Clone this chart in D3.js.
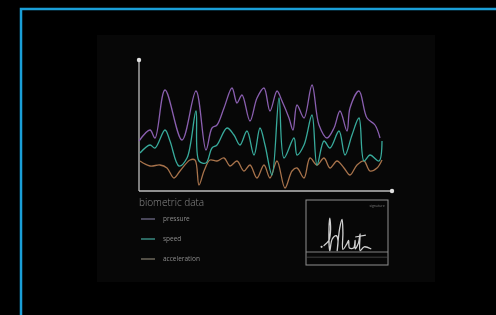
<!DOCTYPE html>
<html>
<head>
<meta charset="utf-8">
<script src="https://cdn.jsdelivr.net/npm/d3@7"></script>
<style>
  html, body { margin: 0; padding: 0; background: #000; }
  svg { display: block; }
  text { font-family: "Open Sans", "DejaVu Sans", sans-serif; }
</style>
</head>
<body>
<svg id="chart" width="496" height="315"></svg>
<script>
// ----- data (t along the time axis 0..253, value 0..131)
const pressureT = [0, 11, 16, 26, 43, 57, 67, 73, 78, 85, 93, 98, 103, 111, 118, 125, 131, 138, 143, 150, 154, 158, 165, 173, 180, 188, 195, 201, 208, 211, 220, 228, 236, 241];
const pressureV = [50, 61, 53, 101, 51, 100, 41, 63, 66, 83, 103, 88, 96, 70, 93, 103, 80, 100, 90, 73, 61, 86, 73, 106, 66, 53, 63, 80, 60, 83, 100, 73, 66, 53];

const speedT = [1, 11, 16, 26, 31, 40, 48, 57, 60, 67, 73, 78, 88, 95, 101, 108, 115, 121, 126, 133, 140, 145, 155, 158, 165, 173, 178, 185, 191, 200, 206, 213, 220, 225, 231, 240, 243];
const speedV = [38, 46, 43, 61, 50, 25, 33, 80, 30, 28, 43, 46, 63, 56, 46, 60, 36, 63, 46, 16, 93, 33, 53, 36, 46, 76, 26, 50, 43, 60, 36, 56, 73, 30, 36, 30, 50];

const accelT = [1, 11, 21, 28, 35, 41, 51, 56, 60, 65, 71, 78, 85, 91, 98, 105, 111, 118, 125, 131, 138, 146, 153, 158, 165, 171, 178, 185, 191, 198, 205, 211, 218, 225, 231, 238, 243];
const accelV = [30, 25, 26, 23, 13, 20, 31, 31, 6, 20, 31, 30, 33, 25, 30, 20, 26, 13, 26, 13, 30, 3, 20, 23, 13, 33, 26, 33, 23, 30, 23, 16, 26, 30, 20, 23, 31];

const seriesNames = ['pressure', 'speed', 'acceleration'];
const seriesColors = ['#8a5fb0', '#38ab9c', '#a8734b'];
const legendColors = ['#6d6a86', '#3f9c92', '#7c7466'];

// signature strokes in box units (0..100 wide, 0..100 tall)
const sigX = [22, 28, 30, 29, 28, 29, 32, 37, 39, 38, 41, 44, 45, 45, 50, 52, 53, 58, 60, 60, 64, 66, 66, 71, 79];
const sigY = [70, 62, 45, 28, 45, 78, 60, 55, 62, 78, 44, 30, 50, 76, 67, 62, 74, 74, 62, 75, 66, 52, 78, 72, 75];
const crossX = [60, 73];
const crossY = [57, 54];

const svg = d3.select('#chart');

const defs = svg.append('defs');
defs.append('filter').attr('id', 'soft')
    .append('feGaussianBlur').attr('stdDeviation', 0.55);

// ----- frame + inner panel
svg.append('rect')
    .attr('x', 21).attr('y', 9).attr('width', 500).attr('height', 330)
    .attr('fill', 'none').attr('stroke', '#1a9fd8').attr('stroke-width', 2.5);

svg.append('rect')
    .attr('x', 97).attr('y', 35).attr('width', 338).attr('height', 247)
    .attr('fill', '#070707');

const g = svg.append('g').attr('filter', 'url(#soft)');

// ----- scales
const x = d3.scaleLinear().domain([0, 253]).range([139, 392]);
const y = d3.scaleLinear().domain([0, 131]).range([191, 60]);

// ----- axes
g.append('line')
    .attr('x1', x(0)).attr('x2', x(0)).attr('y1', y(0)).attr('y2', y(131))
    .attr('stroke', '#bdbdbd').attr('stroke-width', 1.3);
g.append('line')
    .attr('x1', x(0)).attr('x2', x(253)).attr('y1', y(0)).attr('y2', y(0))
    .attr('stroke', '#bdbdbd').attr('stroke-width', 1.5);
g.append('circle').attr('cx', x(0)).attr('cy', y(131)).attr('r', 2.2).attr('fill', '#e0e0e0');
g.append('circle').attr('cx', x(253)).attr('cy', y(0)).attr('r', 2.2).attr('fill', '#e0e0e0');

// ----- series
const line = d3.line()
    .x(d => x(d[0]))
    .y(d => y(d[1]))
    .curve(d3.curveCatmullRom.alpha(0.5));

const series = [
    d3.zip(pressureT, pressureV),
    d3.zip(speedT, speedV),
    d3.zip(accelT, accelV),
];

// acceleration first so pressure ends on top
[2, 1, 0].forEach(i => {
    g.append('path')
        .datum(series[i])
        .attr('d', line)
        .attr('fill', 'none')
        .attr('stroke', seriesColors[i])
        .attr('stroke-width', 1.3)
        .attr('stroke-linejoin', 'round');
});

// ----- legend
g.append('text')
    .attr('x', 139).attr('y', 206)
    .attr('fill', '#8a8a8a')
    .attr('font-size', 10)
    .attr('font-weight', 300)
    .text('biometric data');

const legend = g.selectAll('g.item')
    .data(seriesNames)
    .enter().append('g')
    .attr('class', 'item')
    .attr('transform', (d, i) => `translate(141, ${219 + i * 20})`);

legend.append('line')
    .attr('x1', 0).attr('x2', 14).attr('y1', 0).attr('y2', 0)
    .attr('stroke', (d, i) => legendColors[i])
    .attr('stroke-width', 1.3);

legend.append('text')
    .attr('x', 22).attr('y', 2.2)
    .attr('fill', '#8a8a8a')
    .attr('font-size', 6.5)
    .text(d => d);

// ----- signature box
const box = { x: 306, y: 200, w: 82, h: 65 };
const sx = d3.scaleLinear().domain([0, 100]).range([box.x, box.x + box.w]);
const sy = d3.scaleLinear().domain([0, 100]).range([box.y, box.y + box.h]);

g.append('rect')
    .attr('x', box.x).attr('y', box.y).attr('width', box.w).attr('height', box.h)
    .attr('fill', 'none').attr('stroke', '#8f8f8f').attr('stroke-width', 1);

g.append('line')
    .attr('x1', sx(0)).attr('x2', sx(100)).attr('y1', sy(80)).attr('y2', sy(80))
    .attr('stroke', '#8f8f8f').attr('stroke-width', 0.9);
g.append('line')
    .attr('x1', sx(0)).attr('x2', sx(100)).attr('y1', sy(88)).attr('y2', sy(88))
    .attr('stroke', '#555').attr('stroke-width', 0.7);

g.append('text')
    .attr('x', sx(96)).attr('y', sy(10))
    .attr('text-anchor', 'end')
    .attr('fill', '#777')
    .attr('font-size', 3.5)
    .text('signature');

const sigLine = d3.line()
    .x(d => sx(d[0]))
    .y(d => sy(d[1]))
    .curve(d3.curveCatmullRom.alpha(0.5));

g.append('path')
    .datum(d3.zip(sigX, sigY))
    .attr('d', sigLine)
    .attr('fill', 'none')
    .attr('stroke', '#d0d0d0')
    .attr('stroke-width', 1.3)
    .attr('stroke-linecap', 'round');

g.append('path')
    .datum(d3.zip(crossX, crossY))
    .attr('d', sigLine)
    .attr('fill', 'none')
    .attr('stroke', '#d0d0d0')
    .attr('stroke-width', 1.1);

g.append('circle')
    .attr('cx', sx(19)).attr('cy', sy(72)).attr('r', 1.1)
    .attr('fill', '#d0d0d0');
</script>
</body>
</html>
